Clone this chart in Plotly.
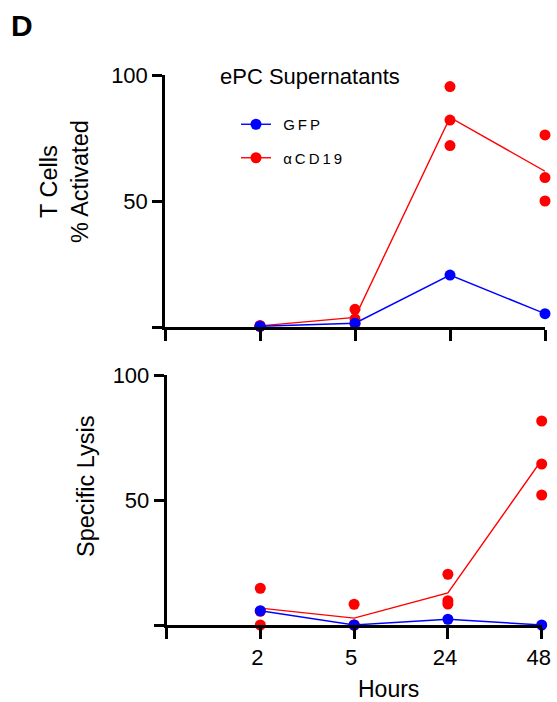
import plotly.graph_objects as go

# ---- data ----
hours = ["2", "5", "24", "48"]
hour_pos = [1, 2, 3, 4]          # category slots on the x axis (slot 0 = axis start)

# T cell activation (%)
gfp_act = [0.3, 1.5, 20.6, 5.3]
acd19_act_reps = [
    [0.6, 0.4, 0.3],
    [7.0, 3.2, 1.3],
    [95.4, 82.1, 72.0],
    [76.2, 59.3, 50.0],
]

# Specific lysis (%)
gfp_lysis = [5.7, 0.0, 2.3, 0.0]
acd19_lysis_reps = [
    [14.7, 5.5, 0.0],
    [8.3, 0.0, 0.0],
    [20.3, 9.7, 8.4],
    [81.6, 64.4, 52.0],
]

BLUE = "#0000FF"
RED = "#FF0000"
FONT = "Liberation Sans, Arial, sans-serif"
MS = 11


def mean(v):
    return sum(v) / len(v)


def rep_xy(reps):
    xs, ys = [], []
    for p, r in zip(hour_pos, reps):
        for v in r:
            xs.append(p)
            ys.append(v)
    return xs, ys


fig = go.Figure()

for reps, gfp, xa, ya in [
    (acd19_act_reps, gfp_act, "x", "y"),
    (acd19_lysis_reps, gfp_lysis, "x2", "y2"),
]:
    fig.add_trace(go.Scatter(x=hour_pos, y=[mean(r) for r in reps], mode="lines",
                             line=dict(color=RED, width=1.4), xaxis=xa, yaxis=ya,
                             showlegend=False, cliponaxis=False))
    rx, ry = rep_xy(reps)
    fig.add_trace(go.Scatter(x=rx, y=ry, mode="markers",
                             marker=dict(color=RED, size=MS), xaxis=xa, yaxis=ya,
                             showlegend=False, cliponaxis=False))
    fig.add_trace(go.Scatter(x=hour_pos, y=gfp, mode="lines+markers",
                             line=dict(color=BLUE, width=1.4),
                             marker=dict(color=BLUE, size=MS), xaxis=xa, yaxis=ya,
                             showlegend=False, cliponaxis=False))

# legend entries
fig.add_trace(go.Scatter(x=[None], y=[None], mode="lines+markers",
                         name="\u00a0\u2009G\u2009F\u2009P",
                         line=dict(color=BLUE, width=1.4), marker=dict(color=BLUE, size=MS),
                         legendgroup="g", legendrank=1))
fig.add_trace(go.Scatter(x=[None], y=[None], mode="lines+markers",
                         name="\u00a0\u2009\u03b1\u2009C\u2009D\u20091\u20099",
                         line=dict(color=RED, width=1.4), marker=dict(color=RED, size=MS),
                         legendgroup="r", legendrank=2))

W, H = 557, 702
L, T = 165, 75
R = W - 545
B = H - 625
ph = H - T - B
pw = W - L - R


def py(p):
    return (H - B - p) / ph


def pxf(p):
    return (p - L) / pw


axis_common = dict(showline=True, linecolor="black", linewidth=2.5, ticks="outside",
                   tickcolor="black", tickwidth=2.5, showgrid=False, zeroline=False,
                   ticklabeloverflow="allow", automargin=False,
                   tickfont=dict(family=FONT, size=22, color="black"))

xticks = dict(tickmode="array", tickvals=[0] + hour_pos, ticktext=[""] + hours,
              range=[0, 4], ticklen=11)
yticks = dict(tickmode="array", tickvals=[0, 50, 100], ticktext=["", "50", "100"],
              range=[0, 100], ticklen=10)


def ann(text, x, y, size, angle=0):
    return dict(text=text, x=pxf(x), y=py(y), xref="paper", yref="paper",
                xanchor="center", yanchor="middle", textangle=angle,
                showarrow=False, font=dict(size=size, family=FONT, color="black"))


fig.update_layout(
    width=W, height=H,
    margin=dict(l=L, r=R, t=T, b=B, autoexpand=False),
    paper_bgcolor="white", plot_bgcolor="white",
    font=dict(family=FONT, color="black"),
    xaxis=dict(domain=[0, 1], anchor="y", showticklabels=False, **xticks, **axis_common),
    yaxis=dict(domain=[py(327), 1], anchor="x", **yticks, **axis_common),
    xaxis2=dict(domain=[pxf(166.5), pxf(541.7)], anchor="y2", ticklabelshift=-3,
                **xticks, **axis_common),
    yaxis2=dict(domain=[0, py(375)], anchor="x2", **yticks, **axis_common),
    legend=dict(x=pxf(236), y=py(108), xanchor="left", yanchor="top",
                font=dict(family=FONT, size=15, color="black"),
                tracegroupgap=11, traceorder="grouped", bgcolor="rgba(0,0,0,0)"),
    annotations=[
        ann("<b>D</b>", 22, 26, 30),
        ann("ePC Supernatants", 310, 76, 22),
        ann("T Cells<br>% Activated", 64, 182, 23.5, -90),
        ann("Specific Lysis", 86, 487, 23.5, -90),
        ann("Hours", 388, 688.5, 23),
    ],
)

fig.write_html("out.html", config={"displayModeBar": False},
               post_script="document.body.style.margin='0';document.body.style.overflow='hidden';")
